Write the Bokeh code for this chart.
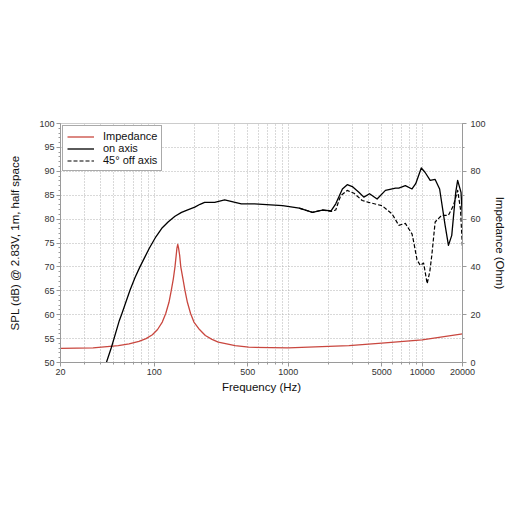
from bokeh.plotting import figure
from bokeh.models import (Range1d, LinearAxis, FixedTicker, SingleIntervalTicker,
                          Legend, LegendItem, NumeralTickFormatter)
from bokeh.embed import file_html
from bokeh.resources import INLINE

# ---- data ----
freq_on = [44, 48, 55, 57.4, 66, 72, 78, 85, 92, 103, 115, 127, 143, 160, 180, 201, 220, 238,
           283, 336, 447, 561,
           909, 1210, 1520, 1800, 2090, 2265, 2540, 2760, 3010, 3370, 3670, 4050, 4610,
           5320, 6330, 6690, 7490, 8400, 8950, 9850, 10500, 11480, 12500, 13500, 14840,
           15710, 16630, 17800, 18400, 19500, 20000]
spl_on = [50.0, 53.2, 58.8, 60.2, 65.1, 67.8, 69.9, 72.0, 73.9, 76.3, 78.2, 79.4, 80.6, 81.4, 82.0,
          82.5, 83.1, 83.5, 83.5, 84.0, 83.2, 83.2,
          82.8, 82.3, 81.4, 81.9, 81.7, 83.2, 86.3, 87.2, 86.8, 85.6, 84.6, 85.3, 84.2,
          86.0, 86.5, 86.5, 87.0, 86.3, 87.4, 90.7, 89.8, 88.1, 88.3, 86.3, 78.7,
          74.5, 76.6, 85.6, 88.1, 85.6, 80.1]

freq_off = [1210, 1520, 1800, 2090, 2265, 2400, 2470, 2760, 3100, 3570, 3990, 5025, 5960,
            6690, 7490, 8400, 8650, 9150, 9690, 10250, 10900, 11400, 11800, 12500, 14000,
            15700, 17100, 18400, 19300, 20000]
spl_off = [82.3, 81.4, 81.9, 81.6, 81.9, 84.0, 84.9, 86.0, 85.4, 83.9, 83.5, 82.8, 81.1,
           78.7, 79.1, 76.9, 75.2, 71.5, 70.3, 70.8, 66.5, 69.0, 72.4, 79.4, 80.8,
           80.8, 82.8, 86.0, 82.2, 73.8]

freq_imp = [20, 35, 54, 65, 77, 87, 97, 106, 115, 122, 129, 134, 139, 143, 146, 148, 150, 152,
            155, 158, 164, 170, 177, 187, 198, 218, 241, 270, 301, 402, 507, 1000, 2840, 5000,
            10000, 20000]
ohm_imp = [5.9, 6.1, 7.1, 7.8, 8.8, 10.0, 11.6, 13.8, 16.9, 20.5, 25.2, 30.0, 35.0, 40.0, 44.8,
           48.0, 49.4, 48.0, 44.8, 40.0, 35.0, 30.0, 25.2, 20.5, 16.9, 13.8, 11.3, 9.7, 8.5,
           7.1, 6.4, 6.1, 7.1, 8.1, 9.5, 12.0]

x_tick_labels = [20, 100, 500, 1000, 5000, 10000, 20000]
x_grid = [20, 30, 40, 50, 60, 70, 80, 90, 100, 200, 300, 400, 500, 600, 700, 800, 900,
          1000, 2000, 3000, 4000, 5000, 6000, 7000, 8000, 9000, 10000, 20000]

FONT = "Liberation Sans"
RED = "#c9473f"
AXIS_COL = "#9a9a9a"
GRID_COL = "#b3b3b3"

p = figure(width=508, height=504, x_axis_type="log",
           x_range=Range1d(20, 20000), y_range=Range1d(50, 100),
           output_backend="svg", toolbar_location=None,
           min_border_left=60, min_border_right=44, min_border_top=123, min_border_bottom=142)
p.extra_y_ranges = {"ohm": Range1d(0, 100)}
p.background_fill_color = "white"
p.border_fill_color = "white"
p.outline_line_color = "#cccccc"

r_imp = p.line(freq_imp, ohm_imp, y_range_name="ohm", line_color=RED, line_width=1.3,
               line_join="round")
r_on = p.line(freq_on, spl_on, line_color="black", line_width=1.3, line_join="round")
r_off = p.line(freq_off, spl_off, line_color="black", line_width=1.2, line_dash="4 2",
               line_join="round")

# x axis
xa = p.xaxis[0]
xa.ticker = FixedTicker(ticks=x_tick_labels, minor_ticks=x_grid)
xa.formatter = NumeralTickFormatter(format="0")
xa.axis_label = "Frequency (Hz)"

# left axis
ya = p.yaxis[0]
ya.ticker = SingleIntervalTicker(interval=5, num_minor_ticks=5)
ya.axis_label = "SPL (dB) @ 2.83V, 1m, half space"

# right axis
ra = LinearAxis(y_range_name="ohm", ticker=SingleIntervalTicker(interval=20, num_minor_ticks=2),
                axis_label="Impedance (Ohm)")
p.add_layout(ra, "right")

for ax in [xa, ya, ra]:
    ax.axis_line_color = AXIS_COL
    ax.major_tick_line_color = AXIS_COL
    ax.minor_tick_line_color = AXIS_COL
    ax.major_tick_in = 0
    ax.major_tick_out = 4
    ax.minor_tick_in = 0
    ax.minor_tick_out = 2
    ax.major_label_text_font = FONT
    ax.major_label_text_font_size = "9px"
    ax.major_label_text_color = "#333333"
    ax.axis_label_text_font = FONT
    ax.axis_label_text_font_size = "11.5px"
    ax.axis_label_text_font_style = "normal"
    ax.axis_label_text_color = "#111111"

xa.major_label_standoff = 2
xa.axis_label_standoff = 3
ya.major_label_standoff = 2
ya.axis_label_standoff = 15
ra.major_label_standoff = 4
ra.axis_label_standoff = 5

p.xgrid.ticker = FixedTicker(ticks=x_grid)
for g in [p.xgrid[0], p.ygrid[0]]:
    g.grid_line_color = GRID_COL
    g.grid_line_dash = "1 2"
    g.grid_line_width = 1

legend = Legend(items=[LegendItem(label="Impedance", renderers=[r_imp]),
                       LegendItem(label="on axis", renderers=[r_on]),
                       LegendItem(label="45° off axis", renderers=[r_off])],
                location="top_left")
legend.margin = 2
legend.padding = 4
legend.spacing = 0
legend.label_height = 11
legend.glyph_height = 11
legend.glyph_width = 27
legend.label_standoff = 9
legend.label_text_font = FONT
legend.label_text_font_size = "11px"
legend.label_text_color = "#111111"
legend.border_line_color = "#555555"
legend.border_line_width = 1
legend.background_fill_alpha = 1.0
p.add_layout(legend)

open("out.html", "w").write(file_html(p, INLINE))
